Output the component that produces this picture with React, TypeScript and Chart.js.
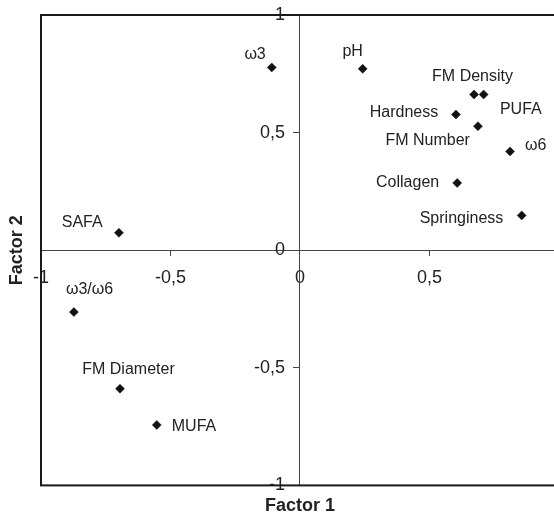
import React, { useEffect, useRef } from 'react';
import { Chart, registerables } from 'chart.js';

Chart.register(...registerables);

// ---- data ----
const variables = ['ω3', 'pH', 'FM Density', 'PUFA', 'Hardness', 'FM Number', 'ω6', 'Collagen', 'Springiness', 'SAFA', 'ω3/ω6', 'FM Diameter', 'MUFA'];
const factor1 = [-0.109, 0.242, 0.672, 0.709, 0.602, 0.687, 0.811, 0.607, 0.856, -0.699, -0.873, -0.695, -0.553];
const factor2 = [0.777, 0.771, 0.662, 0.662, 0.577, 0.527, 0.42, 0.286, 0.148, 0.074, -0.263, -0.589, -0.743];
const axisTicks = [-1, -0.5, 0, 0.5, 1];
const axisTitles = ['Factor 1', 'Factor 2'];

// label placement relative to each marker (style, not data)
const labelPlacement: { dx: number; dy: number; align: CanvasTextAlign }[] = [
  { dx: -6, dy: -12.5, align: 'right' },   // ω3
  { dx: -10, dy: -17.6, align: 'center' }, // pH
  { dx: -1.5, dy: -17.5, align: 'center' },// FM Density
  { dx: 16.3, dy: 15, align: 'left' },     // PUFA
  { dx: -17.7, dy: -1.7, align: 'right' }, // Hardness
  { dx: -8, dy: 14.5, align: 'right' },    // FM Number
  { dx: 15, dy: -5.9, align: 'left' },     // ω6
  { dx: -18, dy: -0.8, align: 'right' },   // Collagen
  { dx: -18.4, dy: 3.5, align: 'right' },  // Springiness
  { dx: -16.3, dy: -10.5, align: 'right' },// SAFA
  { dx: -8, dy: -22.3, align: 'left' },    // ω3/ω6
  { dx: 8.5, dy: -18.7, align: 'center' }, // FM Diameter
  { dx: 15, dy: 1.3, align: 'left' },      // MUFA
];

const FONT = '"Liberation Sans", Arial, Helvetica, sans-serif';
const fmt = (v: number | string) => String(v).replace('.', ',');
const setTicks = (s: any) => {
  s.ticks = axisTicks.map((v) => ({ value: v }));
};

const framePlugin = {
  id: 'frame',
  beforeDatasetsDraw(chart: any) {
    const { ctx, chartArea } = chart;
    ctx.save();
    ctx.strokeStyle = '#1a1a1a';
    ctx.lineWidth = 2;
    ctx.strokeRect(chartArea.left, chartArea.top, chartArea.right - chartArea.left, chartArea.bottom - chartArea.top);
    ctx.restore();
  },
};

const labelPlugin = {
  id: 'pointLabels',
  afterDatasetsDraw(chart: any) {
    const { ctx } = chart;
    const meta = chart.getDatasetMeta(0);
    ctx.save();
    ctx.font = `16px ${FONT}`;
    ctx.fillStyle = '#222';
    ctx.textBaseline = 'middle';
    meta.data.forEach((el: any, i: number) => {
      const p = labelPlacement[i];
      ctx.textAlign = p.align;
      ctx.fillText(variables[i], el.x + p.dx, el.y + p.dy);
    });
    ctx.restore();
  },
};

export default function App() {
  const ref = useRef<HTMLCanvasElement>(null);

  useEffect(() => {
    document.body.style.margin = '0';
    Chart.defaults.font.family = FONT;
    const chart = new Chart(ref.current!, {
      type: 'scatter',
      data: {
        datasets: [
          {
            data: factor1.map((x, i) => ({ x, y: factor2[i] })),
            xAxisID: 'x',
            yAxisID: 'y',
            pointStyle: 'rectRot',
            pointRadius: 4.5,
            pointHoverRadius: 4.5,
            backgroundColor: '#111',
            borderColor: '#111',
            borderWidth: 0.5,
          },
        ],
      },
      options: {
        responsive: false,
        animation: false,
        layout: { padding: { top: 15, right: 0, left: 0, bottom: 0 } },
        plugins: { legend: { display: false }, tooltip: { enabled: false } },
        scales: {
          x: {
            type: 'linear',
            min: -1,
            max: 1,
            position: { y: 0 } as any,
            afterBuildTicks: setTicks,
            ticks: { callback: (v: any) => fmt(v), font: { size: 18 }, color: '#222', padding: 12, maxRotation: 0, autoSkip: false },
            grid: { drawOnChartArea: false, drawTicks: true, tickLength: 5, tickColor: '#444', tickWidth: 1 },
            border: { display: true, color: '#444', width: 1 },
          },
          y: {
            type: 'linear',
            min: -1,
            max: 1,
            position: { x: 0 } as any,
            afterBuildTicks: setTicks,
            ticks: { display: false },
            grid: { drawOnChartArea: false, drawTicks: true, tickLength: 6, tickColor: '#444', tickWidth: 1 },
            border: { display: true, color: '#444', width: 1 },
          },
          yLabels: {
            type: 'linear',
            min: -1,
            max: 1,
            position: { x: -0.058 } as any,
            afterBuildTicks: setTicks,
            ticks: { display: true, callback: (v: any) => fmt(v), font: { size: 18 }, color: '#222', padding: 0, autoSkip: false },
            grid: { display: false, drawTicks: false, tickLength: 0 },
            border: { display: false },
          },
          xTitle: {
            type: 'linear',
            position: 'bottom',
            fullSize: false,
            ticks: { display: false },
            grid: { display: false, drawTicks: false },
            border: { display: false },
            title: { display: true, text: axisTitles[0], color: '#222', font: { size: 18, weight: 'bold' }, padding: { top: 10, bottom: -3 } },
          },
          yTitle: {
            type: 'linear',
            position: 'left',
            fullSize: false,
            ticks: { display: false },
            grid: { display: false, drawTicks: false },
            border: { display: false },
            title: { display: true, text: axisTitles[1], color: '#222', font: { size: 18, weight: 'bold' }, padding: { top: 6.2, bottom: 13.2 } },
          },
        } as any,
      },
      plugins: [framePlugin, labelPlugin],
    });
    return () => chart.destroy();
  }, []);

  return (
    <div style={{ width: 554, height: 514, overflow: 'hidden' }}>
      <canvas ref={ref} width={576} height={514} style={{ display: 'block', width: 576, height: 514 }} />
    </div>
  );
}
